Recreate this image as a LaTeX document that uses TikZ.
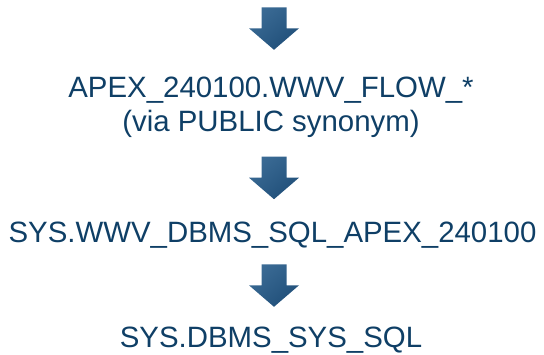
\documentclass[tikz,border=0pt]{standalone}
\usepackage{fontspec}
\setmainfont{Liberation Sans}
\usetikzlibrary{shadings}
\definecolor{txt}{HTML}{0F3F66}
\definecolor{arrowA}{HTML}{40709A}
\definecolor{arrowM}{HTML}{2E5E88}
\definecolor{arrowB}{HTML}{1A4872}
\tikzset{
  label/.style={text=txt, font=\fontsize{29.4}{34}\selectfont, inner sep=0pt, align=center},
  pics/downarrow/.style={code={
    \shade[upper left=arrowA, lower right=arrowB, upper right=arrowM, lower left=arrowM]
      (-12.5,0) -- (12.5,0) -- (12.5,-21) -- (25,-21) -- (0,-42.5) -- (-25,-21) -- (-12.5,-21) -- cycle;
  }}
}
\begin{document}
\begin{tikzpicture}[x=1pt,y=1pt]
\useasboundingbox (0,0) rectangle (544,355);
% call chain, top to bottom
\pic (in) at (274,347.7) {downarrow};
\node[label, anchor=base] (flow) at (271,223) {APEX\_240100.WWV\_FLOW\_*\\(via PUBLIC synonym)};
\pic (a2) at (274,198.3) {downarrow};
\node[label, anchor=base] (wwv) at (272.5,112) {SYS.WWV\_DBMS\_SQL\_APEX\_240100};
\pic (a3) at (274,90.7) {downarrow};
\node[label, anchor=base] (sys) at (271,7.3) {SYS.DBMS\_SYS\_SQL};
\end{tikzpicture}
\end{document}
